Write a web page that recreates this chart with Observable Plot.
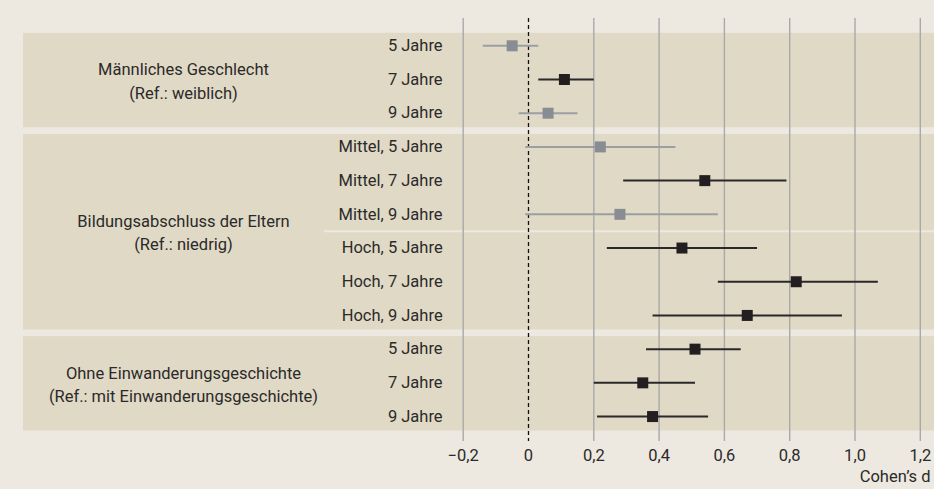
<!DOCTYPE html>
<html>
<head>
<meta charset="utf-8">
<script src="https://cdn.jsdelivr.net/npm/d3@7"></script>
<script src="https://cdn.jsdelivr.net/npm/@observablehq/plot@0.6"></script>
<style>
  html, body { margin: 0; padding: 0; background: #EDE9E1; }
  #chart svg { display: block; }
</style>
</head>
<body>
<div id="chart"></div>
<script>
// ---- data ----
const groupLabels = [
  "Männliches Geschlecht\n(Ref.: weiblich)",
  "Bildungsabschluss der Eltern\n(Ref.: niedrig)",
  "Ohne Einwanderungsgeschichte\n(Ref.: mit Einwanderungsgeschichte)"
];
const rowLabels = [
  "5 Jahre", "7 Jahre", "9 Jahre",
  "Mittel, 5 Jahre", "Mittel, 7 Jahre", "Mittel, 9 Jahre",
  "Hoch, 5 Jahre", "Hoch, 7 Jahre", "Hoch, 9 Jahre",
  "5 Jahre", "7 Jahre", "9 Jahre"
];
const rowGroup = [0, 0, 0, 1, 1, 1, 1, 1, 1, 2, 2, 2];
const rowLevel = ["", "", "", "Mittel", "Mittel", "Mittel", "Hoch", "Hoch", "Hoch", "", "", ""];
const estimate = [-0.05, 0.11, 0.06, 0.22, 0.54, 0.28, 0.47, 0.82, 0.67, 0.51, 0.35, 0.38];
const lower    = [-0.14, 0.03, -0.03, -0.01, 0.29, -0.01, 0.24, 0.58, 0.38, 0.36, 0.20, 0.21];
const upper    = [ 0.03, 0.20, 0.15, 0.45, 0.79, 0.58, 0.70, 1.07, 0.96, 0.65, 0.51, 0.55];
const xTicks = [-0.2, 0, 0.2, 0.4, 0.6, 0.8, 1.0, 1.2];
const axisLabel = "Cohen’s d";

// ---- derived tables ----
const rows = rowLabels.map((label, i) => ({
  i, label, group: rowGroup[i],
  est: estimate[i], lo: lower[i], hi: upper[i],
  sig: lower[i] > 0 || upper[i] < 0
}));
const groups = groupLabels.map((label, g) => {
  const idx = rows.filter(r => r.group === g).map(r => r.i);
  const first = d3.min(idx), last = d3.max(idx);
  return {label, first, last, center: (first + last) / 2};
});
const seps = [];
for (let i = 1; i < rows.length; i++) {
  if (rowGroup[i] === rowGroup[i - 1] && rowLevel[i] !== rowLevel[i - 1]) seps.push(i - 0.5);
}

// ---- layout / style ----
const xDomain = [-1.5467, 1.2435];
const labelX = -0.263;
const groupX = -1.0567;
const sepX = -0.625;
const bg = "#EDE9E1";
const band = "#E0D9C6";
const ink = "#2b2a29";
const black = "#231F20";
const grey = "#878D93";
const greyLine = "#9A9FA3";

const fmt = d => d === 0 ? "0" : (d < 0 ? "−" : "") + Math.abs(d).toFixed(1).replace(".", ",");

const chart = Plot.plot({
  width: 934,
  height: 489,
  marginTop: 18,
  marginBottom: 48,
  marginLeft: 23,
  marginRight: 0,
  style: {background: bg, fontFamily: "Roboto, sans-serif", fontSize: "16.5px", color: ink},
  x: {domain: xDomain, ticks: xTicks, tickFormat: fmt, tickSize: 0, tickPadding: 8, label: null},
  y: {domain: [-0.81, 11.74], axis: null, reverse: true},
  marks: [
    Plot.rect(groups, {x1: xDomain[0], x2: xDomain[1], y1: d => d.first - 0.37, y2: d => d.last + 0.43, fill: band}),
    Plot.ruleY(seps, {y: d => d, x1: sepX, x2: xDomain[1], stroke: bg, strokeWidth: 2}),
    Plot.ruleX(xTicks.filter(t => t !== 0), {stroke: "#A9A9A9", strokeWidth: 1.4}),
    Plot.ruleX([0], {stroke: "#111", strokeWidth: 1.3, strokeDasharray: "4,3"}),
    Plot.link(rows, {x1: "lo", x2: "hi", y1: "i", y2: "i",
      stroke: d => d.sig ? "#2a2828" : greyLine, strokeWidth: 2}),
    Plot.dot(rows, {x: "est", y: "i", symbol: "square", r: 6.2, fill: d => d.sig ? black : grey, stroke: "none"}),
    Plot.text(rows, {x: labelX, y: "i", text: "label", textAnchor: "end", fill: ink}),
    Plot.text(groups, {x: groupX, y: "center", text: "label", lineHeight: 1.42, fill: ink}),
    Plot.text([axisLabel], {frameAnchor: "bottom-right", text: d => d, dx: -4, dy: 40, textAnchor: "end", fill: ink})
  ]
});
document.getElementById("chart").appendChild(chart);
</script>
</body>
</html>
